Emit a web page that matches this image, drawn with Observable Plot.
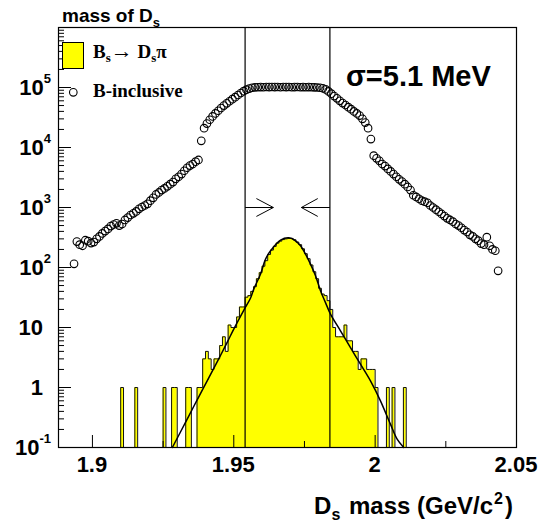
<!DOCTYPE html>
<html><head><meta charset="utf-8">
<script src="https://cdn.jsdelivr.net/npm/d3@7"></script>
<script src="https://cdn.jsdelivr.net/npm/@observablehq/plot@0.6"></script>
<style>
body{margin:0;background:#fff;}
#chart svg{display:block;}
</style></head><body><div id="chart"></div>
<script>
// ---- data ----
const xDomain = [1.888, 2.05];
const yDomain = [0.1, 1e6];
const binWidth = 0.001;

// Bs -> Ds pi signal histogram, 1 MeV bins starting at 1.910
const sigFirstEdge = 1.910;
const sigCounts = [
  1,0,0,0,0,1,0,0,0,0,
  0,0,0,0,0,1,0,0,1,1,
  0,0,0,1,1,0,0,1,1,3,
  4,3,2,3,3,5,7,4,11,10,
  10,15,22,22,32,34,40,48,65,82,
  105,130,165,195,225,255,275,292,300,305,
  305,290,265,240,205,170,140,110,85,65,
  45,36,34,28,20,10,7,7,7,11,
  6,6,4,4,2,3,3,2,2,2,
  1,0,0,0,1,0,1,0,0,0,
  1
];

// B-inclusive, 1 MeV bins, first centre 1.8935
const incFirstCenter = 1.8935;
const incCounts = [
  115,270,240,230,285,275,255,265,300,330,
  370,405,440,490,520,545,500,530,620,680,
  750,800,860,950,1020,1080,1150,1300,1450,1650,
  1780,1950,2080,2250,2450,2650,3000,3250,3600,4100,
  4600,5000,5300,5800,6200,12900,21000,25000,29000,33000,
  37000,41000,45500,50000,54500,59000,64000,69000,75000,81000,
  87000,92000,96000,99000,100500,101000,101500,101000,102000,101500,
  102000,101500,102000,101000,102000,101500,102000,101000,101500,102000,
  101000,101500,101000,101500,101000,100500,100000,99000,97000,93000,
  86000,79000,72000,66000,60000,55000,51000,47000,43500,40000,
  37000,34000,30000,26000,21000,13800,7300,6600,6000,5300,
  4900,4400,4000,3600,3250,2950,2700,2450,2200,1950,
  1600,1500,1400,1300,1250,1200,1080,1000,920,850,
  780,720,660,620,580,530,500,460,420,390,
  350,330,300,280,250,240,320,230,200,190,
  88
];

// fit curve
const fitMass = [1.92827,1.93357,1.93710,1.94064,1.94417,1.94770,1.95004,1.95357,1.95594,1.95710,
  1.95947,1.96124,1.96301,1.96654,1.96947,1.97184,1.97361,1.97537,1.97714,1.97891,
  1.98067,1.98244,1.98421,1.98774,1.99128,1.99481,1.99835,2.00188,2.00541,2.00778,2.01011];
const fitValue = [0.1,0.3,0.63,1.3,2.7,5.7,9.5,19.5,31,44,
  78,138,190,286,312,279,230,167,114,73,
  41,26,16.7,8.8,4.6,2.45,1.29,0.6,0.245,0.138,0.1];

// mass window and arrows
const windowEdges = [1.954, 1.984];
const arrowX1 = [1.954, 1.958, 1.958, 1.984, 1.9797, 1.9797];
const arrowY1 = [1000, 1410, 710, 1000, 1410, 710];
const arrowX2 = [1.964, 1.964, 1.964, 1.9739, 1.9739, 1.9739];
const arrowY2 = [1000, 1000, 1000, 1000, 1000, 1000];

// axes
const xMajorTicks = [1.9, 1.95, 2.0, 2.05];
const xMinorTicks = [1.925, 1.975, 2.025];
const xTickLabels = ["1.9", "1.95", "2", "2.05"];
const yLabelValues = [0.1, 1, 10, 100, 1000, 10000, 100000];
const yTickLabels = ["10^{-1}", "1", "10", "10^{2}", "10^{3}", "10^{4}", "10^{5}"];
const yDecades = [0.1, 1, 10, 100, 1000, 10000, 100000, 1000000];

// ---- build ----
const W = 541, H = 527;
const mL = 58, mR = 25, mT = 27, mB = 80;
const frameW = W - mL - mR, frameH = H - mT - mB;
const sans = "'Liberation Sans', Arial, Helvetica, sans-serif";
const serif = "'Liberation Serif', 'Times New Roman', serif";

const sigSteps = [{x: sigFirstEdge, y: 0.1}];
sigCounts.forEach((c, i) => sigSteps.push({x: sigFirstEdge + i * binWidth, y: Math.max(c, 0.1)}));
const lastEdge = sigFirstEdge + sigCounts.length * binWidth;
sigSteps.push({x: lastEdge, y: Math.max(sigCounts[sigCounts.length - 1], 0.1)});
sigSteps.push({x: lastEdge, y: 0.1});

const incData = incCounts.map((c, i) => ({x: incFirstCenter + i * binWidth, y: c}));
const fitData = fitMass.map((m, i) => ({x: m, y: fitValue[i]}));
const arrows = arrowX1.map((x1, i) => ({x1, y1: arrowY1[i], x2: arrowX2[i], y2: arrowY2[i]}));

const yMinor = [];
yDecades.slice(0, -1).forEach(d => { for (let k = 2; k <= 9; k++) yMinor.push(d * k); });

const chart = Plot.plot({
  width: W, height: H,
  marginLeft: mL, marginRight: mR, marginTop: mT, marginBottom: mB,
  style: {fontFamily: sans, background: "white", overflow: "visible"},
  x: {domain: xDomain, axis: null},
  y: {type: "log", domain: yDomain, axis: null},
  marks: [
    Plot.areaY(sigSteps, {x: "x", y1: () => 0.1, y2: "y", curve: "step-after", fill: "#ffff00"}),
    Plot.line(sigSteps, {x: "x", y: "y", curve: "step-after", stroke: "#111", strokeWidth: 1}),
    Plot.dot(incData, {x: "x", y: "y", r: 3.8, stroke: "black", fill: "none", strokeWidth: 1.1}),
    Plot.line(fitData, {x: "x", y: "y", curve: "catmull-rom", stroke: "black", strokeWidth: 1.5}),
    Plot.ruleX(windowEdges, {stroke: "black", strokeWidth: 1.2}),
    Plot.link(arrows, {x1: "x1", y1: "y1", x2: "x2", y2: "y2", stroke: "black", strokeWidth: 1}),
    Plot.tickY(yDecades, {y: d => d, insetRight: frameW - 13, stroke: "black"}),
    Plot.tickY(yMinor, {y: d => d, insetRight: frameW - 6, stroke: "black"}),
    Plot.tickX(xMajorTicks, {x: d => d, insetTop: frameH - 12, stroke: "black"}),
    Plot.tickX(xMinorTicks, {x: d => d, insetTop: frameH - 6, stroke: "black"}),
    Plot.frame({stroke: "black", strokeWidth: 1.2})
  ]
});
document.getElementById("chart").appendChild(chart);

const sx = chart.scale("x"), sy = chart.scale("y");
const svg = d3.select(chart);
const g = svg.append("g").attr("font-family", sans).attr("font-weight", "bold")
  .attr("fill", "black").attr("text-anchor", "start");

// y tick labels
yLabelValues.forEach((v, i) => {
  const lab = yTickLabels[i];
  const m = lab.match(/^10\^\{(.+)\}$/);
  const t = g.append("text").attr("y", sy.apply(v) + 8).attr("font-size", 22).attr("text-anchor", "end");
  if (m) {
    t.attr("x", 51);
    t.append("tspan").text("10");
    t.append("tspan").attr("font-size", 13).attr("dy", -12).text(m[1]);
  } else {
    t.attr("x", 43).text(lab);
  }
});
// x tick labels
xMajorTicks.forEach((v, i) => {
  g.append("text").attr("x", sx.apply(v)).attr("y", 472).attr("font-size", 22)
    .attr("text-anchor", "middle").text(xTickLabels[i]);
});
// x title
{
  const t = g.append("text").attr("x", 513).attr("y", 514).attr("font-size", 24).attr("text-anchor", "end");
  t.append("tspan").text("D");
  t.append("tspan").attr("font-size", 16).attr("dy", 6).text("s");
  t.append("tspan").attr("dy", -6).attr("dx", 2).text(" mass (GeV/c");
  t.append("tspan").attr("font-size", 16).attr("dy", -10).attr("dx", 1).text("2");
  t.append("tspan").attr("dy", 10).attr("dx", 2).text(")");
}
// title
{
  const t = g.append("text").attr("x", 62).attr("y", 22).attr("font-size", 19);
  t.append("tspan").text("mass of D");
  t.append("tspan").attr("font-size", 13).attr("dy", 5).text("s");
}
// sigma label
g.append("text").attr("x", 346).attr("y", 86).attr("font-size", 29).text("σ=5.1 MeV");

// legend
const lg = svg.append("g").attr("text-anchor", "start");
lg.append("rect").attr("x", 62.5).attr("y", 42.5).attr("width", 21).attr("height", 26)
  .attr("fill", "#ffff00").attr("stroke", "black").attr("stroke-width", 1);
lg.append("circle").attr("cx", 73.3).attr("cy", 92.3).attr("r", 3.8)
  .attr("fill", "none").attr("stroke", "black").attr("stroke-width", 1.1);
{
  const t = lg.append("text").attr("x", 93).attr("y", 58).attr("font-family", serif)
    .attr("font-weight", "bold").attr("font-size", 19);
  t.append("tspan").text("B");
  t.append("tspan").attr("font-size", 13).attr("dy", 4).text("s");
  t.append("tspan").attr("dy", -4).attr("font-size", 22).text("→");
  t.append("tspan").text(" D");
  t.append("tspan").attr("font-size", 13).attr("dy", 4).text("s");
  t.append("tspan").attr("dy", -4).text("π");
}
lg.append("text").attr("x", 93).attr("y", 97).attr("font-family", serif)
  .attr("font-weight", "bold").attr("font-size", 19).text("B-inclusive");
</script>
</body></html>
